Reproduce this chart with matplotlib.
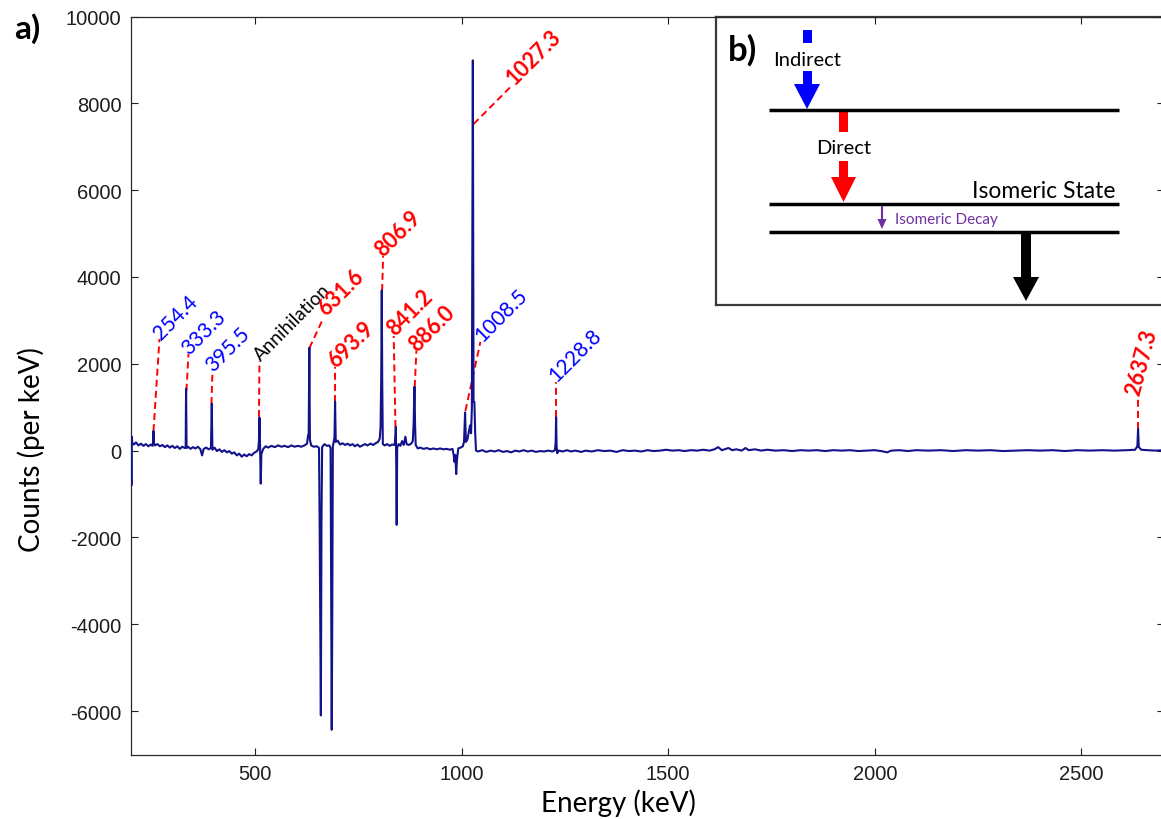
import matplotlib
matplotlib.use("Agg")
import matplotlib.pyplot as plt
from matplotlib.patches import Rectangle, Polygon
import matplotlib.transforms as mtransforms

plt.rcParams['axes.unicode_minus'] = False
plt.rcParams['lines.scale_dashes'] = False

# ---------------- data ----------------
trace_energy = [
    200, 201, 202, 203, 207, 212, 218, 224, 230, 236, 242, 248, 252, 253.5, 254.4, 255.5,
    258, 264, 270, 276, 282, 288, 294, 300, 306, 312, 318, 324, 330, 332.3, 333.3, 334.5,
    338, 344, 350, 356, 362, 368, 372, 376, 382, 388, 393.5, 395.5, 397, 402, 408, 414,
    420, 426, 432, 438, 444, 450, 456, 462, 468, 474, 480, 486, 492, 498, 504, 508,
    509.5, 511, 512.5, 514, 515.5, 520, 526, 532, 540, 548, 556, 564, 572, 580, 588, 596,
    604, 612, 620, 626, 628.5, 630, 631.6, 633, 636, 642, 650, 655, 656.5, 659.5, 661, 662.5,
    668, 674, 680, 683, 684.5, 685.8, 687, 688.5, 690, 692.5, 693.9, 695.5, 700, 706, 712, 718,
    724, 730, 736, 742, 748, 754, 760, 766, 772, 780, 786, 792, 798, 802, 804, 805.5,
    806.9, 808, 809.5, 814, 820, 826, 832, 838, 839.8, 840.9, 842, 843, 844.2, 848, 852, 856,
    860, 864, 867, 872, 878, 882, 884, 886.0, 887.5, 889, 894, 900, 908, 916, 924, 932,
    940, 948, 956, 964, 972, 978, 981, 983, 985, 987, 989, 992, 998, 1003, 1006, 1008.5,
    1010.5, 1014, 1018, 1020.5, 1023, 1025, 1027.3, 1029, 1031, 1033, 1035, 1040, 1050, 1060, 1070, 1080,
    1090, 1100, 1110, 1120, 1130, 1140, 1150, 1160, 1170, 1180, 1190, 1200, 1210, 1220, 1226, 1227.8,
    1228.8, 1230, 1231.5, 1235, 1245, 1255, 1265, 1275, 1290, 1300, 1315, 1330, 1345, 1360, 1375, 1390,
    1405, 1420, 1435, 1450, 1465, 1480, 1495, 1510, 1525, 1540, 1555, 1570, 1585, 1600, 1612, 1621,
    1630, 1640, 1646, 1655, 1665, 1678, 1687, 1695, 1710, 1725, 1740, 1760, 1780, 1800, 1820, 1840,
    1860, 1880, 1900, 1920, 1940, 1960, 1980, 2000, 2015, 2030, 2040, 2060, 2080, 2100, 2130, 2160,
    2190, 2220, 2250, 2280, 2310, 2340, 2370, 2400, 2430, 2460, 2490, 2520, 2550, 2580, 2610, 2630,
    2635.5, 2637.3, 2639, 2645, 2660, 2680, 2700]
trace_counts = [
    120, -800, 320, 180, 140, 190, 120, 160, 110, 150, 100, 140, 110, 200, 450, 180,
    120, 150, 100, 130, 80, 120, 70, 110, 60, 100, 40, 90, 60, 80, 1430, 60,
    90, 40, 80, 50, 90, 30, -110, 40, 70, 30, 60, 1080, 20, 70, -10, 30,
    -30, 10, -40, -10, -70, -40, -110, -70, -140, -90, -130, -80, -110, -50, -20, 30,
    200, 760, 50, -760, -80, 40, 100, 70, 110, 80, 120, 90, 110, 80, 120, 90,
    110, 90, 120, 160, 350, 400, 2370, 250, 120, 90, 100, 60, -1640, -6100, -1640, 80,
    150, 110, 120, 60, -3200, -6430, -4060, 100, 180, 300, 1130, 200, 230, 140, 170, 130,
    160, 120, 150, 100, 140, 90, 120, 150, 120, 160, 130, 170, 200, 280, 550, 1620,
    3690, 1620, 150, 120, 150, 110, 140, 130, 300, 545, -400, -1710, 80, 150, 110, 220,
    130, 320, 150, 130, 160, 220, 620, 1470, 600, 130, 50, 70, 40, 60, 30, 50,
    30, 50, 30, 40, 20, 40, -100, -260, -100, -540, -200, 50, 70, 100, 200, 880,
    200, 250, 450, 580, 400, 1000, 8990, 1120, 1120, 400, 0, -20, 10, -30, 0, -20,
    10, -30, -10, -40, 0, -20, 10, -20, 0, -30, -10, -20, 0, -20, 10, 200,
    770, 100, -60, 0, -20, 10, -20, 0, -30, 0, -20, 10, -10, 0, -30, 10,
    -10, 0, -20, 10, -10, 0, 20, 0, 10, -10, 10, 0, 20, 0, 30, 80,
    10, 40, 60, 10, 30, 0, 60, 10, 30, 0, 20, 0, 10, -10, 10, 0,
    10, -10, 10, 0, 10, -10, 0, 10, -10, -40, 0, 10, -10, 10, 0, 10,
    -10, 10, 0, 10, -10, 0, 10, 0, 10, -10, 10, 0, 10, 0, 10, 20,
    100, 500, 80, 20, 10, 0, 10]

label_text = ['254.4', '333.3', '395.5', 'Annihilation', '631.6', '693.9', '806.9',
              '841.2', '886.0', '1008.5', '1027.3', '1228.8', '2637.3']
label_kind = ['indirect', 'indirect', 'indirect', 'annihilation', 'direct', 'direct', 'direct',
              'direct', 'direct', 'indirect', 'direct', 'indirect', 'direct']

x_ticks = [500, 1000, 1500, 2000, 2500]
y_ticks = [-6000, -4000, -2000, 0, 2000, 4000, 6000, 8000, 10000]

# ---------------- layout (leader lines, data coordinates) ----------------
lead_x0 = [254.4, 334.2, 394.7, 509.7, 631.9, 694.8, 807.7, 840.0, 886.6, 1009.3, 1029.4, 1229.5, 2636.0]
lead_y0 = [450, 1380, 1075, 776, 2365, 1121, 3678, 546, 1467, 914, 7524, 776, 500]
lead_x1 = [268.9, 339.1, 397.2, 510.9, 665.7, 694.8, 810.2, 835.8, 890.7, 1045.6, 1123.0, 1229.5, 2636.0]
lead_y1 = [2572, 2227, 1836, 2066, 3056, 1928, 4484, 2642, 2303, 2503, 8422, 1582, 1260]
label_rot = [45, 45, 45, 45, 45, 45, 45, 45, 45, 45, 45, 45, 75]
label_dx = [2, 1, 1, 1, 3, 1, 0, 1, 1, 2, 2, 0, 2]   # pixels
label_dy = [-1, -1, -1, 0, 2, -1, -1, 0, -1, 0, 0, 0, 0]

kind_style = {
    'indirect': dict(color='#0000ff', fontweight='normal', fontsize=15),
    'direct': dict(color='#ff0000', fontweight='bold', fontsize=15.5),
    'annihilation': dict(color='#000000', fontweight='normal', fontsize=13.5),
}

W, H = 1161, 820
fig = plt.figure(figsize=(W / 100, H / 100), dpi=100)
fig.patch.set_facecolor('white')

# ---------------- inset b) (drawn in figure-pixel coordinates) ----------------
ix0, ix1, iy0, iy1 = 716, 1176, 18, 306
ax_in = fig.add_axes([ix0 / W, 1 - iy1 / H, (ix1 - ix0) / W, (iy1 - iy0) / H], zorder=0)
ax_in.set_xlim(ix0, ix1)
ax_in.set_ylim(iy1, iy0)
ax_in.set_xticks([])
ax_in.set_yticks([])
for s in ax_in.spines.values():
    s.set_color('#3a3a3a')
    s.set_linewidth(1.6)

for yl in [111, 205, 233]:
    ax_in.plot([769, 1119], [yl, yl], color='black', lw=2.5, solid_capstyle='butt')

# blue (indirect) arrow
ax_in.add_patch(Rectangle((803, 31), 9, 13, color='#0000ff', lw=0))
ax_in.add_patch(Rectangle((803, 72), 9, 14, color='#0000ff', lw=0))
ax_in.add_patch(Polygon([(794, 85), (820, 85), (807, 110)], closed=True, color='#0000ff', lw=0))
ax_in.text(807, 60, 'Indirect', ha='center', va='center', fontsize=14.5, family='Lato')
# red (direct) arrow
ax_in.add_patch(Rectangle((839, 113), 9, 20, color='#ff0000', lw=0))
ax_in.add_patch(Rectangle((839, 162), 9, 17, color='#ff0000', lw=0))
ax_in.add_patch(Polygon([(831, 178), (856, 178), (843.5, 203)], closed=True, color='#ff0000', lw=0))
ax_in.text(844, 148, 'Direct', ha='center', va='center', fontsize=14.5, family='Lato')
# isomeric state
ax_in.text(1115, 192, 'Isomeric State', ha='right', va='center', fontsize=16.5, family='Lato')
# purple isomeric decay
ax_in.plot([882, 882], [207, 221], color='#7030a0', lw=1.5, solid_capstyle='butt')
ax_in.add_patch(Polygon([(877.5, 220), (886.5, 220), (882, 230)], closed=True, color='#7030a0', lw=0))
ax_in.text(895, 220, 'Isomeric Decay', ha='left', va='center', fontsize=11, color='#7030a0', family='Lato')
# black arrow
ax_in.add_patch(Rectangle((1021, 233), 10, 46, color='black', lw=0))
ax_in.add_patch(Polygon([(1013, 278), (1039, 278), (1026, 302)], closed=True, color='black', lw=0))
ax_in.text(743, 50, 'b)', ha='center', va='center', fontsize=25, fontweight='bold', family='Lato')

# ---------------- main axes a) ----------------
ax_l, ax_r, ax_t, ax_b = 131, 1164, 17.5, 755.5
ax = fig.add_axes([ax_l / W, 1 - ax_b / H, (ax_r - ax_l) / W, (ax_b - ax_t) / H], zorder=1)
ax.patch.set_alpha(0)

ax.plot(trace_energy, trace_counts, color='#12128a', lw=1.5, zorder=3)

for i, txt in enumerate(label_text):
    ax.plot([lead_x0[i], lead_x1[i]], [lead_y0[i], lead_y1[i]], color='#ff0000', lw=1.4,
            dashes=(5, 3), zorder=2)
    tr = mtransforms.offset_copy(ax.transData, fig=fig, x=label_dx[i], y=label_dy[i], units='dots')
    st = kind_style[label_kind[i]]
    ax.text(lead_x1[i], lead_y1[i], txt, transform=tr, rotation=label_rot[i],
            rotation_mode='anchor', ha='left', va='baseline', family='Lato', **st)

ax.set_xlim(200, 2700)
ax.set_ylim(-7000, 10000)
ax.set_xticks(x_ticks)
ax.set_yticks(y_ticks)
ax.set_xticklabels([str(v) for v in x_ticks])
ax.set_yticklabels([str(v) for v in y_ticks])
ax.tick_params(direction='in', length=5, width=0.8, top=True, right=True,
               labelsize=14.5, colors='#1e1e1e')
ax.tick_params(axis='x', pad=7)
ax.tick_params(axis='y', pad=7)
for lab in ax.get_xticklabels() + ax.get_yticklabels():
    lab.set_family('Liberation Sans')
for s in ax.spines.values():
    s.set_color('#2a2a2a')
    s.set_linewidth(0.9)

fig.text(618 / W, 1 - 803 / H, 'Energy (keV)', ha='center', va='center', fontsize=20, family='Lato')
fig.text(31 / W, 1 - 450 / H, 'Counts (per keV)', ha='center', va='center', rotation=90,
         fontsize=20, family='Lato')
fig.text(27 / W, 1 - 29 / H, 'a)', ha='center', va='center', fontsize=24, fontweight='bold', family='Lato')

fig.savefig('out.png', dpi=100)
